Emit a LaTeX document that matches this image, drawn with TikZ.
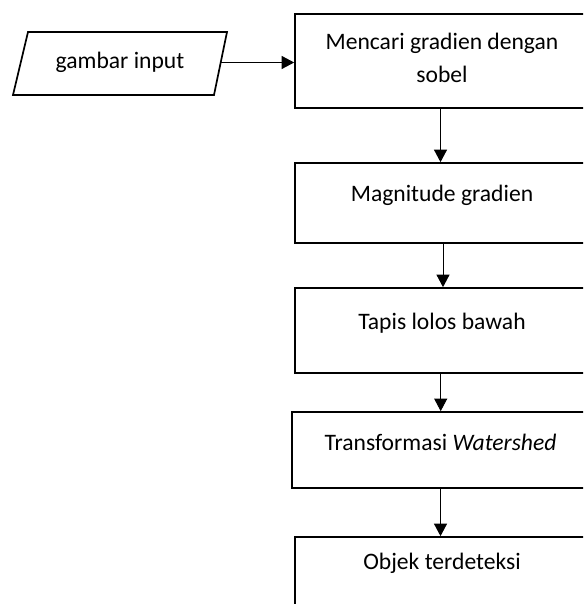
\documentclass[tikz,border=0pt]{standalone}
\usepackage{fontspec}
\setmainfont{Carlito}
\usetikzlibrary{arrows.meta}
\tikzset{
  box/.style={draw=black, line width=1.7pt, minimum width=294pt, inner sep=0pt},
  txt/.style={font=\fontsize{23.6}{33}\selectfont, inner sep=0pt, align=center},
  arr/.style={draw=black, line width=1pt, -{Triangle[width=13pt,length=12.5pt]}}
}
\begin{document}
\begin{tikzpicture}[x=1pt,y=-1pt]
\useasboundingbox (0,0) rectangle (583,604);
\clip (0,0) rectangle (583,604);
\fill[white] (0,0) rectangle (583,604);
% input parallelogram
\coordinate (p1) at (28,32);
\coordinate (p2) at (227,32);
\coordinate (p3) at (214,95);
\coordinate (p4) at (13,95);
\draw[line width=1.7pt, line join=miter] (p1) -- (p2) -- (p3) -- (p4) -- cycle;
\node[txt] (tin) at (120,62) {gambar input};
\coordinate (inR) at (220.5,62.5);
% boxes
\node[box, minimum height=94pt] (b1) at (442,61) {};
\node[txt] (t1) at (442,57.5) {Mencari gradien dengan\\sobel};
\node[box, minimum height=80pt] (b2) at (442,203) {};
\node[txt] (t2) at (442,195) {Magnitude gradien};
\node[box, minimum height=85pt] (b3) at (442,330.5) {};
\node[txt] (t3) at (442,323) {Tapis lolos bawah};
\node[box, minimum width=297pt, minimum height=76pt] (b4) at (440.5,450) {};
\node[txt] (t4) at (440.5,442) {Transformasi \textit{Watershed}};
\node[box, minimum height=90pt] (b5) at (442,582) {};
\node[txt] (t5) at (442,563) {Objek terdeteksi};
% connectors
\draw[arr] (inR) -- (inR -| b1.west);
\draw[arr] ([xshift=-1.5pt]b1.south) -- ([xshift=-1.5pt]b2.north);
\draw[arr] ([xshift=1pt]b2.south) -- ([xshift=1pt]b3.north);
\draw[arr] ([xshift=-1.3pt]b3.south) -- ([xshift=0.2pt]b4.north);
\draw[arr] (b4.south) -- (b4.south |- b5.north);
\end{tikzpicture}
\end{document}
